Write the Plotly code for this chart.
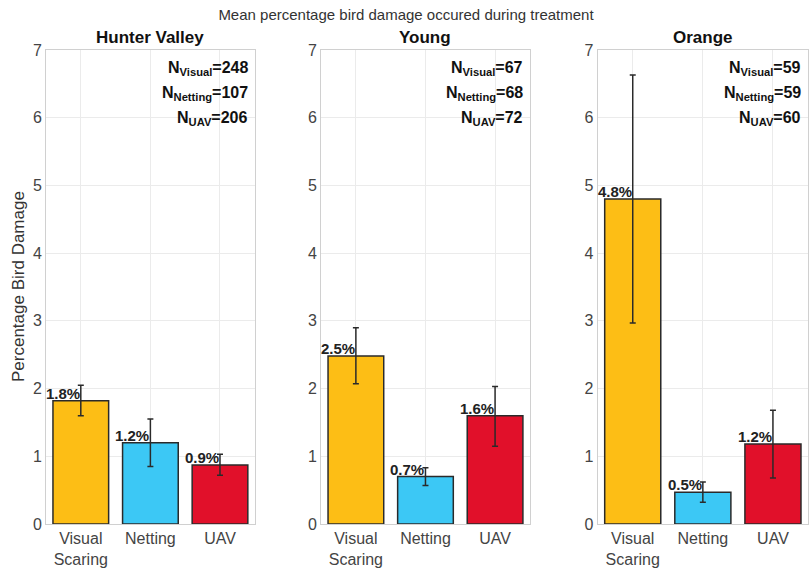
import plotly.graph_objects as go
from plotly.subplots import make_subplots

sites = ["Hunter Valley", "Young", "Orange"]
treatments = ["Visual<br>Scaring", "Netting", "UAV"]
colors = ["#FDBE15", "#3CC8F5", "#E1102A"]

means = {
    "Hunter Valley": [1.82, 1.20, 0.87],
    "Young": [2.48, 0.70, 1.60],
    "Orange": [4.80, 0.47, 1.18],
}
err_plus = {
    "Hunter Valley": [0.23, 0.35, 0.16],
    "Young": [0.42, 0.13, 0.43],
    "Orange": [1.83, 0.15, 0.50],
}
err_minus = {
    "Hunter Valley": [0.22, 0.35, 0.15],
    "Young": [0.41, 0.13, 0.45],
    "Orange": [1.83, 0.15, 0.50],
}
labels = {
    "Hunter Valley": ["1.8%", "1.2%", "0.9%"],
    "Young": ["2.5%", "0.7%", "1.6%"],
    "Orange": ["4.8%", "0.5%", "1.2%"],
}
counts = {
    "Hunter Valley": [248, 107, 206],
    "Young": [67, 68, 72],
    "Orange": [59, 59, 60],
}
count_names = ["Visual", "Netting", "UAV"]

fig = make_subplots(rows=1, cols=3)
domains = [(0.0, 0.274), (0.361, 0.635), (0.724, 1.0)]
font_family = "Liberation Sans, Arial, sans-serif"

for i, site in enumerate(sites):
    col = i + 1
    xs = [0, 1, 2]
    fig.add_trace(go.Bar(
        x=xs, y=means[site], width=0.8,
        marker=dict(color=colors, line=dict(color="#2a2a2a", width=1.5)),
        error_y=dict(type="data", symmetric=False, array=err_plus[site],
                     arrayminus=err_minus[site], color="#2a2a2a",
                     thickness=1.5, width=3),
        showlegend=False,
    ), row=1, col=col)
    xa = "x" if i == 0 else f"x{col}"
    ya = "y" if i == 0 else f"y{col}"
    for j in range(3):
        fig.add_annotation(x=xs[j], y=means[site][j], xref=xa, yref=ya,
                           text=f"<b>{labels[site][j]}</b>", showarrow=False,
                           xanchor="right", yanchor="bottom", xshift=1, yshift=-3,
                           font=dict(size=15, color="#222", family=font_family))
    for j, nm in enumerate(count_names):
        fig.add_annotation(x=0.975, y=[0.962, 0.909, 0.856][j],
                           xref=f"{xa} domain", yref=f"{ya} domain",
                           text=f"<b>N<sub>{nm}</sub>={counts[site][j]}</b>",
                           showarrow=False, xanchor="right", yanchor="middle",
                           font=dict(size=16, color="#111", family=font_family))
    # subplot title
    fig.add_annotation(x=0.5, y=1.0, xref=f"{xa} domain", yref=f"{ya} domain",
                       text=f"<b>{site}</b>", showarrow=False,
                       xanchor="center", yanchor="bottom", yshift=1,
                       font=dict(size=17, color="#111", family=font_family))
    fig.update_xaxes(domain=list(domains[i]), range=[-0.5, 2.5],
                     tickvals=xs, ticktext=treatments, automargin=False,
                     showgrid=True, gridcolor="#ebebeb",
                     showline=True, mirror=True, linecolor="#d0d0d0", linewidth=1,
                     ticks="", tickfont=dict(size=16, color="#444", family=font_family),
                     zeroline=False, row=1, col=col)
    fig.update_yaxes(range=[0, 7], dtick=1, automargin=False,
                     showgrid=True, gridcolor="#ebebeb",
                     showline=True, mirror=True, linecolor="#d0d0d0", linewidth=1,
                     ticks="", tickfont=dict(size=16, color="#444", family=font_family),
                     zeroline=False, row=1, col=col)

fig.add_annotation(x=-28 / 762, y=0.5, xref="paper", yref="paper",
                   text="Percentage Bird Damage", showarrow=False, textangle=-90,
                   xanchor="center", yanchor="middle",
                   font=dict(size=17, color="#333", family=font_family))

fig.update_layout(
    width=812, height=576,
    margin=dict(l=46, r=4, t=50, b=52, autoexpand=False),
    paper_bgcolor="white", plot_bgcolor="white",
    title=dict(text="Mean percentage bird damage occured during treatment",
               x=0.5, xanchor="center", y=0.975, yanchor="middle",
               font=dict(size=15, color="#333", family=font_family)),
    font=dict(family=font_family),
)

fig.write_html("out.html", config={"displayModeBar": False},
               post_script="document.body.style.margin='0';document.body.style.overflow='hidden';")
